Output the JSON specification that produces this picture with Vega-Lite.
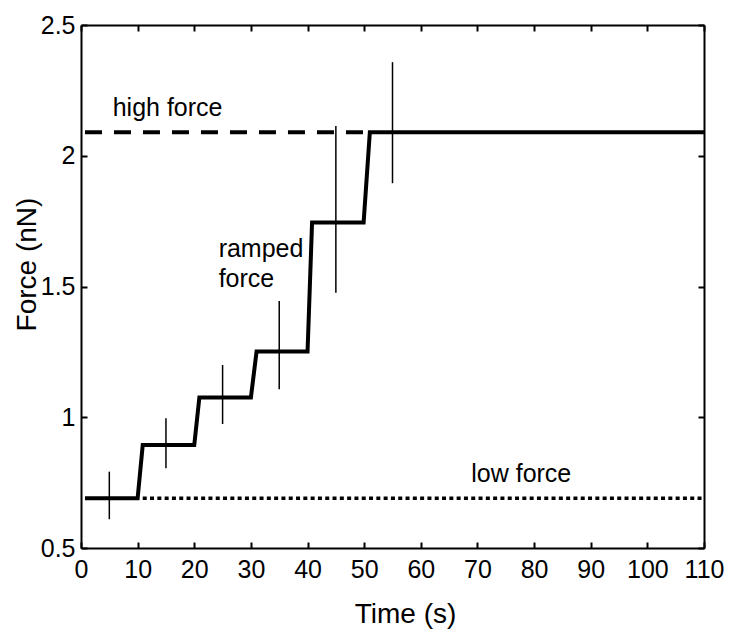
{
  "$schema": "https://vega.github.io/schema/vega-lite/v6.json",
  "width": 623,
  "height": 523,
  "autosize": "none",
  "padding": {"left": 81, "top": 25, "right": 37, "bottom": 86},
  "background": "white",
  "config": {
    "font": "Liberation Sans",
    "view": {"stroke": null},
    "axis": {
      "domainColor": "black",
      "domainWidth": 2,
      "tickColor": "black",
      "tickWidth": 2,
      "tickSize": -6,
      "grid": false,
      "labelColor": "black",
      "labelFont": "Liberation Sans",
      "labelFontSize": 25,
      "labelFlush": false,
      "labelOverlap": false,
      "titleColor": "black",
      "titleFont": "Liberation Sans",
      "titleFontSize": 28,
      "titleFontWeight": "normal"
    }
  },
  "datasets": {
    "step": [
      {"t": 0.7, "f": 0.69},
      {"t": 10, "f": 0.69},
      {"t": 10.9, "f": 0.894},
      {"t": 20, "f": 0.894},
      {"t": 20.9, "f": 1.076},
      {"t": 30, "f": 1.076},
      {"t": 31, "f": 1.251},
      {"t": 40, "f": 1.251},
      {"t": 40.8, "f": 1.745},
      {"t": 49.9, "f": 1.745},
      {"t": 51, "f": 2.09},
      {"t": 110, "f": 2.09}
    ],
    "high": [
      {"t": 0.7, "f": 2.09},
      {"t": 51, "f": 2.09}
    ],
    "low": [
      {"t": 10.9, "f": 0.69},
      {"t": 110, "f": 0.69}
    ],
    "err": [
      {"t": 5, "lo": 0.61, "hi": 0.792},
      {"t": 15, "lo": 0.805, "hi": 0.996},
      {"t": 25, "lo": 0.974, "hi": 1.2},
      {"t": 35, "lo": 1.107, "hi": 1.445},
      {"t": 45, "lo": 1.476, "hi": 2.114},
      {"t": 55, "lo": 1.895, "hi": 2.358}
    ],
    "notes": [
      {"t": 5.6, "f": 2.152, "label": "high force"},
      {"t": 24.3, "f": 1.614, "label": "ramped"},
      {"t": 24.3, "f": 1.499, "label": "force"},
      {"t": 68.9, "f": 0.751, "label": "low force"}
    ]
  },
  "layer": [
    {
      "data": {"name": "step"},
      "mark": {"type": "line", "color": "black", "strokeWidth": 4, "strokeCap": "butt", "strokeJoin": "miter"},
      "encoding": {
        "x": {
          "field": "t", "type": "quantitative",
          "scale": {"domain": [0, 110], "nice": false, "zero": false},
          "axis": {
            "orient": "bottom",
            "values": [0, 10, 20, 30, 40, 50, 60, 70, 80, 90, 100, 110],
            "title": "Time (s)",
            "labelPadding": 15,
            "titleX": 324,
            "titleY": 74,
            "titleBaseline": "alphabetic"
          }
        },
        "y": {
          "field": "f", "type": "quantitative",
          "scale": {"domain": [0.5, 2.5], "nice": false, "zero": false},
          "axis": {
            "orient": "left",
            "values": [0.5, 1, 1.5, 2, 2.5],
            "format": "~g",
            "title": "Force (nN)",
            "labelPadding": 12,
            "titleX": -46,
            "titleY": 239,
            "titleBaseline": "alphabetic",
            "titleAngle": -90
          }
        }
      }
    },
    {
      "data": {"name": "high"},
      "mark": {"type": "line", "color": "black", "strokeWidth": 4, "strokeDash": [17, 12], "strokeCap": "butt"},
      "encoding": {
        "x": {
          "field": "t", "type": "quantitative",
          "axis": {
            "orient": "top",
            "values": [0, 10, 20, 30, 40, 50, 60, 70, 80, 90, 100, 110],
            "labels": false,
            "title": null
          }
        },
        "y": {
          "field": "f", "type": "quantitative",
          "axis": {
            "orient": "right",
            "values": [0.5, 1, 1.5, 2, 2.5],
            "labels": false,
            "title": null
          }
        }
      }
    },
    {
      "data": {"name": "low"},
      "mark": {"type": "line", "color": "black", "strokeWidth": 3.5, "strokeDash": [4, 3.3], "strokeCap": "butt"},
      "encoding": {
        "x": {"field": "t", "type": "quantitative", "axis": null},
        "y": {"field": "f", "type": "quantitative", "axis": null}
      }
    },
    {
      "data": {"name": "err"},
      "mark": {"type": "rule", "color": "black", "strokeWidth": 1.5},
      "encoding": {
        "x": {"field": "t", "type": "quantitative", "axis": null},
        "y": {"field": "lo", "type": "quantitative", "axis": null},
        "y2": {"field": "hi"}
      }
    },
    {
      "data": {"name": "notes"},
      "mark": {"type": "text", "color": "black", "fontSize": 25, "align": "left", "baseline": "alphabetic", "font": "Liberation Sans"},
      "encoding": {
        "x": {"field": "t", "type": "quantitative", "axis": null},
        "y": {"field": "f", "type": "quantitative", "axis": null},
        "text": {"field": "label"}
      }
    }
  ],
  "resolve": {"axis": {"x": "independent", "y": "independent"}}
}
